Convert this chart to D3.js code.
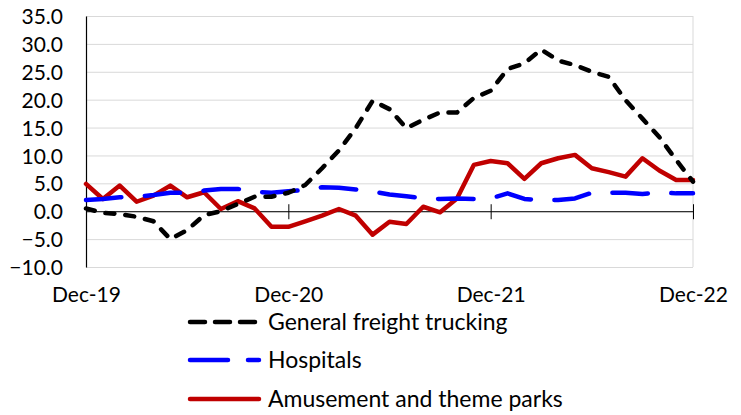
<!DOCTYPE html>
<html>
<head>
<meta charset="utf-8">
<script src="https://cdn.jsdelivr.net/npm/d3@7"></script>
<style>
  body { margin: 0; background: #fff; }
  text { font-family: Lato, "Open Sans", sans-serif; fill: #000; }
</style>
</head>
<body>
<div id="chart"></div>
<script>
// monthly categories, Dec-19 .. Dec-22
var months = ["2019-12", "2020-01", "2020-02", "2020-03", "2020-04", "2020-05", "2020-06",
  "2020-07", "2020-08", "2020-09", "2020-10", "2020-11", "2020-12",
  "2021-01", "2021-02", "2021-03", "2021-04", "2021-05", "2021-06",
  "2021-07", "2021-08", "2021-09", "2021-10", "2021-11", "2021-12",
  "2022-01", "2022-02", "2022-03", "2022-04", "2022-05", "2022-06",
  "2022-07", "2022-08", "2022-09", "2022-10", "2022-11", "2022-12"];

var trucking = [0.5, -0.3, -0.5, -1.0, -1.8, -5.0, -3.4, -0.7, 0.0, 1.3, 2.6, 2.6, 3.3,
  4.7, 7.7, 10.9, 14.9, 19.8, 18.3, 14.9, 16.4, 17.7, 17.7, 20.3, 21.6,
  25.5, 26.5, 29.0, 27.0, 26.2, 25.0, 24.1, 19.9, 16.6, 13.3, 9.2, 5.3];

var hospitals = [2.0, 2.2, 2.5, 2.6, 2.9, 3.3, 3.3, 3.7, 4.0, 4.0, 3.5, 3.3, 3.6,
  3.8, 4.3, 4.2, 3.9, 3.5, 3.0, 2.7, 2.3, 2.2, 2.3, 2.2, 2.3,
  3.2, 2.2, 2.0, 2.0, 2.3, 3.3, 3.3, 3.3, 3.1, 3.4, 3.2, 3.2];

var parks = [4.9, 2.2, 4.6, 1.7, 2.8, 4.6, 2.5, 3.4, 0.4, 1.8, 0.5, -2.8, -2.8,
  -1.8, -0.8, 0.4, -0.8, -4.2, -1.9, -2.3, 0.8, -0.2, 2.3, 8.3, 9.0,
  8.6, 5.8, 8.6, 9.5, 10.1, 7.7, 7.0, 6.2, 9.5, 7.3, 5.6, 5.6];

var seriesNames = ["General freight trucking", "Hospitals", "Amusement and theme parks"];
var xTickMonths = ["2019-12", "2020-12", "2021-12", "2022-12"];
var xTickLabels = ["Dec-19", "Dec-20", "Dec-21", "Dec-22"];
var yTicks = [-10, -5, 0, 5, 10, 15, 20, 25, 30, 35];

var svgWidth = 741;
var svgHeight = 415;

var margin = {
  top: 16,
  right: 48,
  bottom: 148,
  left: 86
};

var width = svgWidth - margin.left - margin.right;
var height = svgHeight - margin.top - margin.bottom;

var svg = d3.select("#chart")
  .append("svg")
  .attr("width", svgWidth)
  .attr("height", svgHeight);

var chartGroup = svg.append("g")
  .attr("transform", `translate(${margin.left}, ${margin.top})`);

var xScale = d3.scalePoint()
  .domain(months)
  .range([0, width]);

var yScale = d3.scaleLinear()
  .domain([-10, 35])
  .range([height, 0]);

// gridlines
chartGroup.append("g")
  .call(d3.axisLeft(yScale).tickValues(yTicks).tickSize(-width).tickFormat(""))
  .call(g => g.select(".domain").remove())
  .selectAll(".tick line")
  .attr("stroke", "#d9d9d9");

// plot area border on the right
chartGroup.append("line")
  .attr("x1", width).attr("x2", width)
  .attr("y1", 0).attr("y2", height)
  .attr("stroke", "#d9d9d9");

// y axis
var leftAxis = d3.axisLeft(yScale)
  .tickValues(yTicks)
  .tickSize(0)
  .tickPadding(23)
  .tickFormat(d3.format(".1f"));

chartGroup.append("g")
  .call(leftAxis)
  .call(g => g.select(".domain").attr("stroke", "#000").attr("stroke-width", 1.2))
  .selectAll("text")
  .attr("font-size", "21px")
  .attr("dy", "0.36em");

// x axis line at zero with crossing ticks
chartGroup.append("g")
  .attr("transform", `translate(0, ${yScale(0)})`)
  .call(d3.axisBottom(xScale).tickValues(xTickMonths).tickSize(8).tickSizeOuter(0).tickFormat(""))
  .call(g => g.select(".domain").attr("stroke", "#000"))
  .selectAll(".tick line")
  .attr("y1", -7)
  .attr("stroke", "#000");

// x labels under the plot
chartGroup.append("g")
  .attr("transform", `translate(0, ${height})`)
  .call(d3.axisBottom(xScale).tickValues(xTickMonths).tickSize(0).tickPadding(20)
    .tickFormat((d, i) => xTickLabels[i]))
  .call(g => g.select(".domain").remove())
  .selectAll("text")
  .attr("font-size", "21px");

var line = d3.line()
  .x((d, i) => xScale(months[i]))
  .y(d => yScale(d));

var styles = [
  { color: "#000000", dash: "9,11", legendDash: "15,10" },
  { color: "#0000ff", dash: "35.5,23.5", legendDash: "38,20" },
  { color: "#c00000", dash: null, legendDash: null }
];
var allSeries = [trucking, hospitals, parks];

// draw order: parks, hospitals, trucking on top
[2, 1, 0].forEach(function(k) {
  chartGroup.append("path")
    .datum(allSeries[k])
    .attr("d", line)
    .attr("fill", "none")
    .attr("stroke", styles[k].color)
    .attr("stroke-width", 4.5)
    .attr("stroke-linecap", "round")
    .attr("stroke-linejoin", "round")
    .attr("stroke-dasharray", styles[k].dash);
});

// legend
var legend = svg.append("g");
var legendY = [322, 360, 399];

seriesNames.forEach(function(name, k) {
  legend.append("line")
    .attr("x1", 190).attr("x2", 259)
    .attr("y1", legendY[k]).attr("y2", legendY[k])
    .attr("stroke", styles[k].color)
    .attr("stroke-width", 4.5)
    .attr("stroke-linecap", "round")
    .attr("stroke-dasharray", styles[k].legendDash);

  legend.append("text")
    .attr("x", 268)
    .attr("y", legendY[k])
    .attr("dy", "0.35em")
    .attr("font-size", "23px")
    .text(name);
});
</script>
</body>
</html>
